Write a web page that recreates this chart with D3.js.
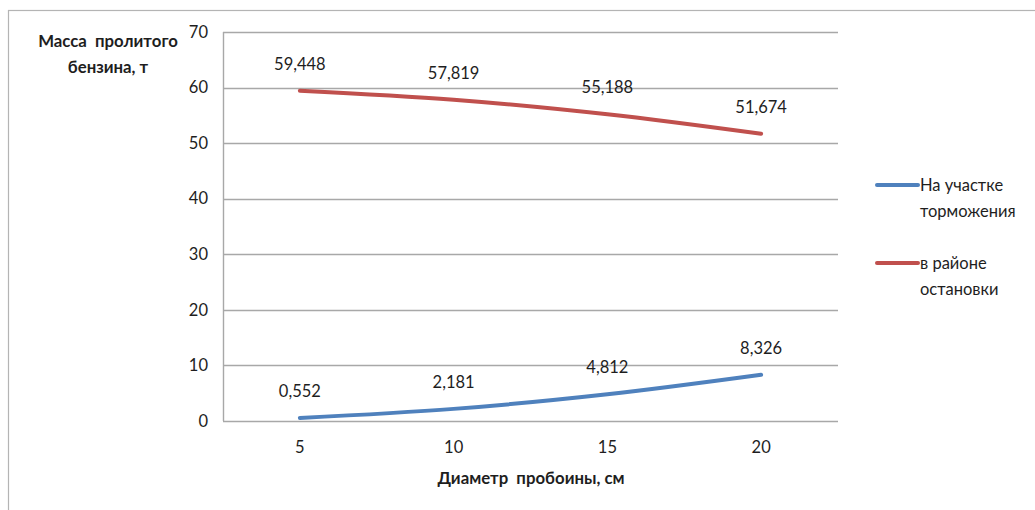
<!DOCTYPE html>
<html>
<head>
<meta charset="utf-8">
<script src="https://cdn.jsdelivr.net/npm/d3@7"></script>
<style>
  html, body { margin: 0; padding: 0; background: #fff; }
  svg { display: block; }
  text { font-family: Lato, "Open Sans", sans-serif; fill: #1e1e1e; }
  .title { white-space: pre; font-weight: bold; font-size: 16.8px; }
</style>
</head>
<body>
<svg id="chart" width="1035" height="510"></svg>
<script>
// Hole diameter, cm
const diameters = [5, 10, 15, 20];
// Mass of spilled petrol, t
const brakingZone = [0.552, 2.181, 4.812, 8.326];
const stopZone = [59.448, 57.819, 55.188, 51.674];
const yTicks = [0, 10, 20, 30, 40, 50, 60, 70];
const seriesNames = [["На участке", "торможения"], ["в районе", "остановки"]];
const seriesColors = ["#4F81BD", "#C0504D"];

const svg = d3.select("#chart");
const plot = { left: 223, right: 838, top: 32, bottom: 421 };

// outer chart frame
svg.append("rect")
  .attr("x", 8.5).attr("y", 10.5)
  .attr("width", 1100).attr("height", 600)
  .attr("fill", "none").attr("stroke", "#b4b4b4").attr("stroke-width", 1.2);

const x = d3.scaleBand().domain(diameters).range([plot.left, plot.right]);
const y = d3.scaleLinear().domain([0, 70]).range([plot.bottom, plot.top]);

// horizontal gridlines
svg.append("g").selectAll("line").data(yTicks).join("line")
  .attr("x1", plot.left).attr("x2", plot.right)
  .attr("y1", d => Math.round(y(d)) + 0.5).attr("y2", d => Math.round(y(d)) + 0.5)
  .attr("stroke", "#a8a8a8").attr("stroke-width", 1.4);

// left axis line
svg.append("line")
  .attr("x1", plot.left + 0.5).attr("x2", plot.left + 0.5)
  .attr("y1", plot.top).attr("y2", plot.bottom)
  .attr("stroke", "#a8a8a8").attr("stroke-width", 1.4);

// y tick labels
const yAxis = d3.axisLeft(y).tickValues(yTicks).tickSize(0).tickPadding(15);
const gy = svg.append("g").attr("transform", `translate(${plot.left},0)`).call(yAxis);
gy.select(".domain").remove();
gy.selectAll("text").style("font-size", "16.5px").attr("font-family", null).attr("fill", "#1e1e1e");

// x tick labels
const xAxis = d3.axisBottom(x).tickSize(0).tickPadding(20);
const gx = svg.append("g").attr("transform", `translate(0,${plot.bottom})`).call(xAxis);
gx.select(".domain").remove();
gx.selectAll("text").style("font-size", "16.5px").attr("font-family", null).attr("fill", "#1e1e1e");

// axis titles
const yTitle = svg.append("text").attr("class", "title").attr("text-anchor", "middle");
yTitle.append("tspan").attr("x", 108).attr("y", 47).text("Масса  пролитого");
yTitle.append("tspan").attr("x", 108).attr("y", 73).text("бензина, т");

svg.append("text").attr("class", "title")
  .attr("x", 531).attr("y", 484).attr("text-anchor", "middle")
  .text("Диаметр  пробоины, см");

// series lines and value labels
const fmt = v => d3.format(".3f")(v).replace(".", ",");
const cx = d => x(d) + x.bandwidth() / 2;
const line = d3.line().curve(d3.curveCatmullRom.alpha(0.5))
  .x(d => cx(d[0])).y(d => y(d[1]));

[brakingZone, stopZone].forEach((vals, i) => {
  const pts = diameters.map((d, j) => [d, vals[j]]);
  svg.append("path").datum(pts)
    .attr("d", line).attr("fill", "none")
    .attr("stroke", seriesColors[i]).attr("stroke-width", 4)
    .attr("stroke-linecap", "round");
  svg.append("g").selectAll("text").data(pts).join("text")
    .attr("x", d => cx(d[0])).attr("y", d => y(d[1]) - 21)
    .attr("text-anchor", "middle").style("font-size", "16.5px")
    .text(d => fmt(d[1]));
});

// legend
const legendY = [185, 263];
seriesNames.forEach((lines, i) => {
  svg.append("line")
    .attr("x1", 877).attr("x2", 918)
    .attr("y1", legendY[i]).attr("y2", legendY[i])
    .attr("stroke", seriesColors[i]).attr("stroke-width", 4)
    .attr("stroke-linecap", "round");
  const t = svg.append("text").style("font-size", "16.5px");
  lines.forEach((s, k) => {
    t.append("tspan").attr("x", 920).attr("y", legendY[i] + 6 + k * 26).text(s);
  });
});
</script>
</body>
</html>
